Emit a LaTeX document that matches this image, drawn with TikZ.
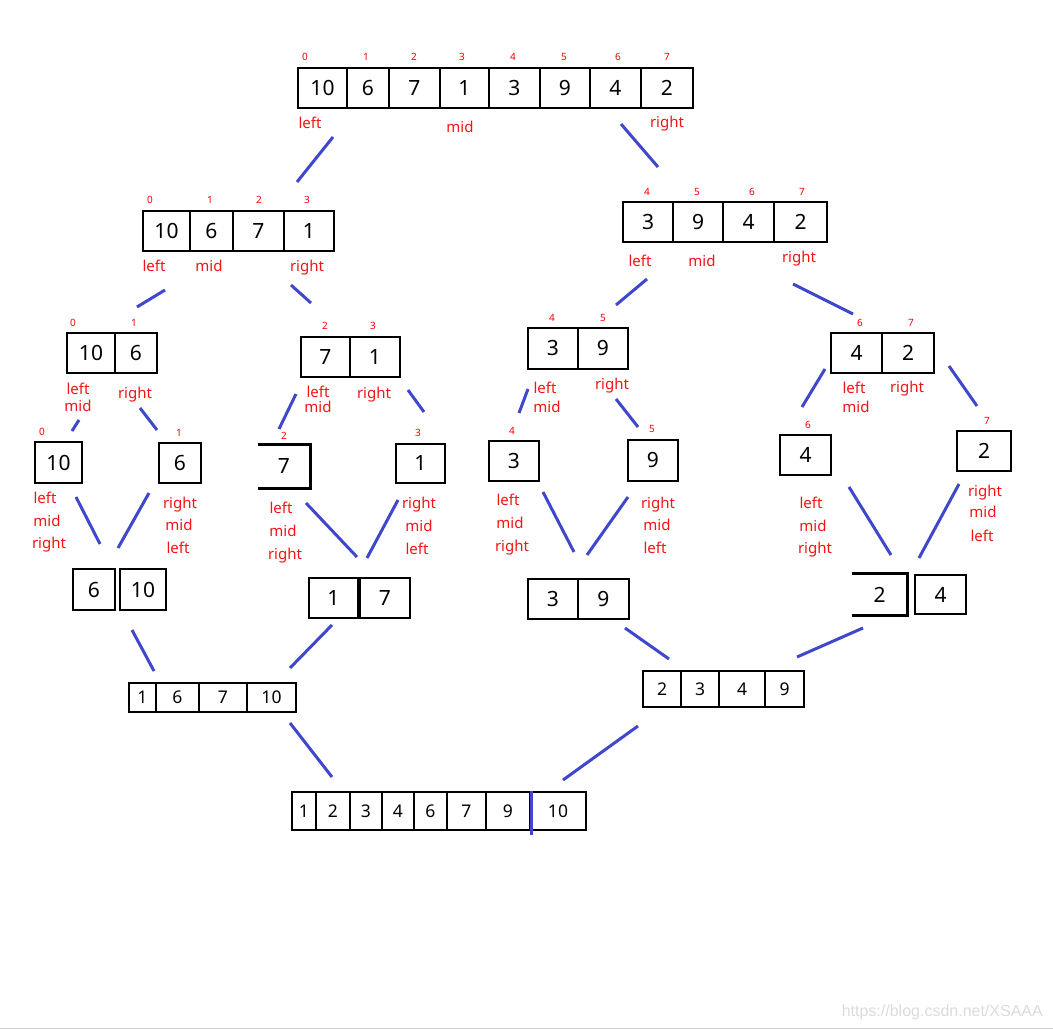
\documentclass[tikz,border=0pt]{standalone}
\usepackage{fontspec}
\setmainfont{Noto Sans}
\newfontfamily\markfont{Liberation Sans}
\definecolor{paintblue}{RGB}{63,72,204}
\definecolor{ptrred}{RGB}{245,20,20}
\tikzset{
    cell/.style={draw, line width=2.8pt, inner sep=0pt, font=\fontsize{21}{21}\selectfont},
    smallcell/.style={cell, font=\fontsize{17.5}{17.5}\selectfont},
    openbox/.style={cell, draw=none},
    idx/.style={text=red, inner sep=0pt, font=\fontsize{10}{10}\selectfont},
    ptr/.style={text=ptrred, inner sep=0pt, text height=10.5pt, text depth=0pt, font=\fontsize{15}{15}\selectfont},
    link/.style={draw=paintblue, line width=3pt}
}

\begin{document}
\begin{tikzpicture}[x=1pt, y=-1pt]

  \useasboundingbox (0,0) rectangle (1053,1030);

  % Whole array
  \node[cell, minimum width=49pt, minimum height=40pt] (t0) at (322.5,88) {10};
  \node[cell, minimum width=42pt, minimum height=40pt] (t1) at (368,88) {6};
  \node[cell, minimum width=51pt, minimum height=40pt] (t2) at (414.5,88) {7};
  \node[cell, minimum width=49pt, minimum height=40pt] (t3) at (464.5,88) {1};
  \node[cell, minimum width=51pt, minimum height=40pt] (t4) at (514.5,88) {3};
  \node[cell, minimum width=50pt, minimum height=40pt] (t5) at (565,88) {9};
  \node[cell, minimum width=51pt, minimum height=40pt] (t6) at (615.5,88) {4};
  \node[cell, minimum width=52pt, minimum height=40pt] (t7) at (667,88) {2};
  \node[idx] (ti0) at (305,57) {0};
  \node[idx] (ti1) at (366,57) {1};
  \node[idx] (ti2) at (414,57) {2};
  \node[idx] (ti3) at (462,57) {3};
  \node[idx] (ti4) at (513,57) {4};
  \node[idx] (ti5) at (564,57) {5};
  \node[idx] (ti6) at (618,57) {6};
  \node[idx] (ti7) at (667,57) {7};
  \node[ptr] (tl) at (310,123) {left};
  \node[ptr] (tm) at (460,127) {mid};
  \node[ptr] (tr) at (667,122) {right};

  % First split
  \node[cell, minimum width=47pt, minimum height=40pt] (a0) at (166.5,231) {10};
  \node[cell, minimum width=43pt, minimum height=40pt] (a1) at (211.5,231) {6};
  \node[cell, minimum width=51pt, minimum height=40pt] (a2) at (258.5,231) {7};
  \node[cell, minimum width=50pt, minimum height=40pt] (a3) at (309,231) {1};
  \node[idx] (ai0) at (150,200) {0};
  \node[idx] (ai1) at (210,200) {1};
  \node[idx] (ai2) at (259,200) {2};
  \node[idx] (ai3) at (307,200) {3};
  \node[ptr] (al) at (154,266) {left};
  \node[ptr] (am) at (209,266) {mid};
  \node[ptr] (ar) at (307,266) {right};

  \node[cell, minimum width=50pt, minimum height=40pt] (b0) at (648,222) {3};
  \node[cell, minimum width=50pt, minimum height=40pt] (b1) at (698,222) {9};
  \node[cell, minimum width=51pt, minimum height=40pt] (b2) at (748.5,222) {4};
  \node[cell, minimum width=53pt, minimum height=40pt] (b3) at (800.5,222) {2};
  \node[idx] (bi0) at (647,192) {4};
  \node[idx] (bi1) at (697,192) {5};
  \node[idx] (bi2) at (752,192) {6};
  \node[idx] (bi3) at (802,192) {7};
  \node[ptr] (bl) at (640,261) {left};
  \node[ptr] (bm) at (702,261) {mid};
  \node[ptr] (br) at (799,257) {right};

  % Second split
  \node[cell, minimum width=48pt, minimum height=40pt] (c0) at (91,353) {10};
  \node[cell, minimum width=42pt, minimum height=40pt] (c1) at (136,353) {6};
  \node[idx] (ci0) at (73,323) {0};
  \node[idx] (ci1) at (134,323) {1};
  \node[ptr] (cl) at (78,389) {left};
  \node[ptr] (cm) at (78,406) {mid};
  \node[ptr] (cr) at (135,393) {right};

  \node[cell, minimum width=49pt, minimum height=40pt] (d0) at (325.5,357) {7};
  \node[cell, minimum width=50pt, minimum height=40pt] (d1) at (375,357) {1};
  \node[idx] (di0) at (325,326) {2};
  \node[idx] (di1) at (373,326) {3};
  \node[ptr] (dl) at (318,392) {left};
  \node[ptr] (dm) at (318,407) {mid};
  \node[ptr] (dr) at (374,393) {right};

  \node[cell, minimum width=50pt, minimum height=41pt] (e0) at (553,348.5) {3};
  \node[cell, minimum width=50pt, minimum height=41pt] (e1) at (603,348.5) {9};
  \node[idx] (ei0) at (552,318) {4};
  \node[idx] (ei1) at (603,318) {5};
  \node[ptr] (el) at (545,388) {left};
  \node[ptr] (em) at (547,407) {mid};
  \node[ptr] (er) at (612,384) {right};

  \node[cell, minimum width=51pt, minimum height=40pt] (f0) at (856.5,353) {4};
  \node[cell, minimum width=52pt, minimum height=40pt] (f1) at (908,353) {2};
  \node[idx] (fi0) at (860,323) {6};
  \node[idx] (fi1) at (911,323) {7};
  \node[ptr] (fl) at (854,388) {left};
  \node[ptr] (fm) at (856,407) {mid};
  \node[ptr] (fr) at (907,387) {right};

  % Single elements
  \node[cell, minimum width=47pt, minimum height=41pt] (g0) at (58.5,462.5) {10};
  \node[cell, minimum width=42pt, minimum height=40pt] (g1) at (180,463) {6};
  \node[openbox, minimum width=50pt, minimum height=41pt] (g2) at (284,466.5) {7};
  \draw[line width=2.8pt] (g2.north west) -- (g2.north east) -- (g2.south east) -- (g2.south west);
  \node[cell, minimum width=49pt, minimum height=39pt] (g3) at (420.5,463.5) {1};
  \node[cell, minimum width=50pt, minimum height=40pt] (g4) at (514,461) {3};
  \node[cell, minimum width=50pt, minimum height=41pt] (g5) at (653,460.5) {9};
  \node[cell, minimum width=51pt, minimum height=40pt] (g6) at (805.5,455) {4};
  \node[cell, minimum width=54pt, minimum height=40pt] (g7) at (984,451) {2};
  \node[idx] (gi0) at (42,432) {0};
  \node[idx] (gi1) at (179,433) {1};
  \node[idx] (gi2) at (284,436) {2};
  \node[idx] (gi3) at (418,433) {3};
  \node[idx] (gi4) at (512,431) {4};
  \node[idx] (gi5) at (652,429) {5};
  \node[idx] (gi6) at (808,425) {6};
  \node[idx] (gi7) at (987,421) {7};

  \node[ptr] (g0l) at (45,498) {left};
  \node[ptr] (g0m) at (47,521) {mid};
  \node[ptr] (g0r) at (49,543) {right};
  \node[ptr] (g1r) at (180,503) {right};
  \node[ptr] (g1m) at (179,525) {mid};
  \node[ptr] (g1l) at (178,548) {left};
  \node[ptr] (g2l) at (281,508) {left};
  \node[ptr] (g2m) at (283,531) {mid};
  \node[ptr] (g2r) at (285,554) {right};
  \node[ptr] (g3r) at (419,503) {right};
  \node[ptr] (g3m) at (419,526) {mid};
  \node[ptr] (g3l) at (417,549) {left};
  \node[ptr] (g4l) at (508,500) {left};
  \node[ptr] (g4m) at (510,523) {mid};
  \node[ptr] (g4r) at (512,546) {right};
  \node[ptr] (g5r) at (658,503) {right};
  \node[ptr] (g5m) at (657,525) {mid};
  \node[ptr] (g5l) at (655,548) {left};
  \node[ptr] (g6l) at (811,503) {left};
  \node[ptr] (g6m) at (813,526) {mid};
  \node[ptr] (g6r) at (815,548) {right};
  \node[ptr] (g7r) at (985,491) {right};
  \node[ptr] (g7m) at (983,512) {mid};
  \node[ptr] (g7l) at (982,536) {left};

  % First merge
  \node[cell, minimum width=42pt, minimum height=41pt] (m0) at (94,589.5) {6};
  \node[cell, minimum width=46pt, minimum height=41pt] (m1) at (143,589.5) {10};
  \node[cell, minimum width=49pt, minimum height=40pt] (m2) at (333.5,598) {1};
  \node[cell, minimum width=50pt, minimum height=40pt] (m3) at (385,598) {7};
  \node[cell, minimum width=50pt, minimum height=40pt] (m4) at (553,599) {3};
  \node[cell, minimum width=51pt, minimum height=40pt] (m5) at (603.5,599) {9};
  \node[openbox, minimum width=53pt, minimum height=39pt] (m6) at (879.5,594.5) {2};
  \draw[line width=2.8pt] (m6.north west) -- (m6.north east) -- (m6.south east) -- (m6.south west);
  \node[cell, minimum width=51pt, minimum height=39pt] (m7) at (940.5,594.5) {4};

  % Second merge
  \node[smallcell, minimum width=27pt, minimum height=29pt] (n0) at (142.5,697.5) {1};
  \node[smallcell, minimum width=43pt, minimum height=29pt] (n1) at (177.5,697.5) {6};
  \node[smallcell, minimum width=48pt, minimum height=29pt] (n2) at (223,697.5) {7};
  \node[smallcell, minimum width=49pt, minimum height=29pt] (n3) at (271.5,697.5) {10};
  \node[smallcell, minimum width=38pt, minimum height=36pt] (p0) at (662,689) {2};
  \node[smallcell, minimum width=38pt, minimum height=36pt] (p1) at (700,689) {3};
  \node[smallcell, minimum width=46pt, minimum height=36pt] (p2) at (742,689) {4};
  \node[smallcell, minimum width=39pt, minimum height=36pt] (p3) at (784.5,689) {9};

  % Sorted array
  \node[smallcell, minimum width=24pt, minimum height=38pt] (z0) at (304,811) {1};
  \node[smallcell, minimum width=34pt, minimum height=38pt] (z1) at (333,811) {2};
  \node[smallcell, minimum width=32pt, minimum height=38pt] (z2) at (366,811) {3};
  \node[smallcell, minimum width=32pt, minimum height=38pt] (z3) at (398,811) {4};
  \node[smallcell, minimum width=33pt, minimum height=38pt] (z4) at (430.5,811) {6};
  \node[smallcell, minimum width=39pt, minimum height=38pt] (z5) at (466.5,811) {7};
  \node[smallcell, minimum width=44pt, minimum height=38pt] (z6) at (508,811) {9};
  \node[smallcell, minimum width=56pt, minimum height=38pt] (z7) at (558,811) {10};
  \draw[link] (z6.north east) -- ([yshift=-4pt]z6.south east);

  % Split and merge strokes
  \coordinate (s1) at (333,137);  \coordinate (s2) at (297,182);
  \coordinate (s3) at (621,124);  \coordinate (s4) at (658,167);
  \coordinate (s5) at (165,290);  \coordinate (s6) at (137,307);
  \coordinate (s7) at (291,285);  \coordinate (s8) at (311,303);
  \coordinate (s9) at (647,279);  \coordinate (s10) at (616,305);
  \coordinate (s11) at (793,284); \coordinate (s12) at (853,314);
  \coordinate (s13) at (79,420);  \coordinate (s14) at (72,431);
  \coordinate (s15) at (140,408); \coordinate (s16) at (157,430);
  \coordinate (s17) at (296,394); \coordinate (s18) at (279,429);
  \coordinate (s19) at (408,390); \coordinate (s20) at (424,412);
  \coordinate (s21) at (528,389); \coordinate (s22) at (519,413);
  \coordinate (s23) at (616,399); \coordinate (s24) at (638,427);
  \coordinate (s25) at (825,369); \coordinate (s26) at (802,407);
  \coordinate (s27) at (949,366); \coordinate (s28) at (977,406);

  \coordinate (j1) at (76,497);   \coordinate (j2) at (100,544);
  \coordinate (j3) at (149,493);  \coordinate (j4) at (118,548);
  \coordinate (j5) at (306,503);  \coordinate (j6) at (357,557);
  \coordinate (j7) at (398,500);  \coordinate (j8) at (367,558);
  \coordinate (j9) at (543,492);  \coordinate (j10) at (574,552);
  \coordinate (j11) at (628,497); \coordinate (j12) at (587,555);
  \coordinate (j13) at (849,487); \coordinate (j14) at (891,555);
  \coordinate (j15) at (959,484); \coordinate (j16) at (919,558);
  \coordinate (j17) at (132,630); \coordinate (j18) at (154,671);
  \coordinate (j19) at (332,625); \coordinate (j20) at (290,668);
  \coordinate (j21) at (625,628); \coordinate (j22) at (669,659);
  \coordinate (j23) at (863,628); \coordinate (j24) at (797,657);
  \coordinate (j25) at (290,723); \coordinate (j26) at (332,777);
  \coordinate (j27) at (638,726); \coordinate (j28) at (563,780);

  \draw[link] (s1) -- (s2);   \draw[link] (s3) -- (s4);
  \draw[link] (s5) -- (s6);   \draw[link] (s7) -- (s8);
  \draw[link] (s9) -- (s10);  \draw[link] (s11) -- (s12);
  \draw[link] (s13) -- (s14); \draw[link] (s15) -- (s16);
  \draw[link] (s17) -- (s18); \draw[link] (s19) -- (s20);
  \draw[link] (s21) -- (s22); \draw[link] (s23) -- (s24);
  \draw[link] (s25) -- (s26); \draw[link] (s27) -- (s28);
  \draw[link] (j1) -- (j2);   \draw[link] (j3) -- (j4);
  \draw[link] (j5) -- (j6);   \draw[link] (j7) -- (j8);
  \draw[link] (j9) -- (j10);  \draw[link] (j11) -- (j12);
  \draw[link] (j13) -- (j14); \draw[link] (j15) -- (j16);
  \draw[link] (j17) -- (j18); \draw[link] (j19) -- (j20);
  \draw[link] (j21) -- (j22); \draw[link] (j23) -- (j24);
  \draw[link] (j25) -- (j26); \draw[link] (j27) -- (j28);

  % Watermark
  \node[text=black!14, inner sep=0pt, anchor=east, font=\markfont\fontsize{16}{16}\selectfont] (wm) at (1043,1012) {https://blog.csdn.net/XSAAA};
  \coordinate (e1) at (0,1028.5); \coordinate (e2) at (1053,1028.5);
  \draw[black!18, line width=1.5pt] (e1) -- (e2);
\end{tikzpicture}
\end{document}
